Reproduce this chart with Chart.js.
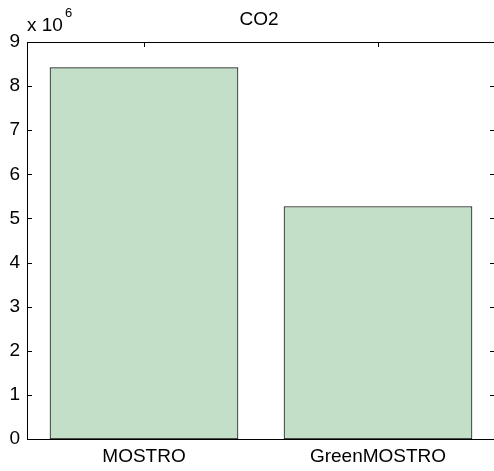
<!DOCTYPE html>
<html>
<head>
<meta charset="utf-8">
<script src="https://cdn.jsdelivr.net/npm/chart.js@4/dist/chart.umd.min.js"></script>
<style>
  html, body { margin: 0; padding: 0; background: #fff; overflow: hidden; }
  #wrap { width: 497px; height: 471px; }
</style>
</head>
<body>
<div id="wrap"><canvas id="c" width="497" height="471"></canvas></div>
<script>
// CO2 totals per configuration
const categories = ['MOSTRO', 'GreenMOSTRO'];
const co2Values = [8.42e6, 5.27e6];
const yTickValues = [0, 1e6, 2e6, 3e6, 4e6, 5e6, 6e6, 7e6, 8e6, 9e6];
const titleText = 'CO2';
const exponentBase = 'x 10';
const exponentPower = '6';

const FONT = '"Liberation Sans", Arial, Helvetica, sans-serif';

// Boxed axes with inward ticks on all four sides, plus title and exponent label
const frame = {
  id: 'frame',
  beforeDatasetsDraw(chart) {
    const { ctx, chartArea: a, scales } = chart;
    const len = 5;
    ctx.save();
    ctx.strokeStyle = '#000';
    ctx.lineWidth = 1;
    ctx.beginPath();
    yTickValues.forEach(v => {
      const y = Math.round(scales.y.getPixelForValue(v)) + 0.5;
      ctx.moveTo(a.left, y); ctx.lineTo(a.left + len, y);
      ctx.moveTo(a.right, y); ctx.lineTo(a.right - len, y);
    });
    categories.forEach((c, i) => {
      const x = Math.round(scales.x.getPixelForValue(i)) + 0.5;
      ctx.moveTo(x, a.top); ctx.lineTo(x, a.top + len);
      ctx.moveTo(x, a.bottom); ctx.lineTo(x, a.bottom - len);
    });
    ctx.stroke();
    ctx.restore();
  },
  afterDatasetsDraw(chart) {
    const { ctx, chartArea: a } = chart;
    ctx.save();
    ctx.strokeStyle = '#000';
    ctx.lineWidth = 1;
    const l = Math.round(a.left) + 0.5, t = Math.round(a.top) + 0.5;
    const r = Math.round(a.right) + 0.5, b = Math.round(a.bottom) + 0.5;
    ctx.strokeRect(l, t, r - l, b - t);

    ctx.fillStyle = '#000';
    ctx.textBaseline = 'alphabetic';
    ctx.textAlign = 'center';
    ctx.font = '19px ' + FONT;
    ctx.fillText(titleText, (a.left + a.right) / 2 - 2, 25);

    ctx.textAlign = 'left';
    ctx.fillText(exponentBase, a.left, 31);
    const w = ctx.measureText(exponentBase).width;
    ctx.font = '13px ' + FONT;
    ctx.fillText(exponentPower, a.left + w + 2, 17);
    ctx.restore();
  }
};

new Chart(document.getElementById('c'), {
  type: 'bar',
  data: {
    labels: categories,
    datasets: [{
      data: co2Values,
      backgroundColor: '#c3dfc7',
      borderColor: '#1a1a1a',
      borderWidth: 1,
      borderSkipped: false,
      barThickness: 188
    }]
  },
  options: {
    responsive: false,
    animation: false,
    devicePixelRatio: 1,
    layout: { padding: { top: 42, right: 2, left: 0, bottom: 0 } },
    plugins: { legend: { display: false }, tooltip: { enabled: false }, title: { display: false } },
    scales: {
      x: {
        offset: true,
        grid: { display: false, drawTicks: false },
        border: { display: false },
        ticks: { color: '#000', padding: 6, font: { family: FONT, size: 19 }, maxRotation: 0 },
        afterFit(scale) { scale.height = 32; }
      },
      y: {
        min: 0,
        max: 9e6,
        grid: { display: false, drawTicks: false },
        border: { display: false },
        afterBuildTicks(scale) { scale.ticks = yTickValues.map(v => ({ value: v })); },
        ticks: {
          color: '#000',
          padding: 7,
          font: { family: FONT, size: 19 },
          callback: v => String(v / 1e6)
        },
        afterFit(scale) { scale.width = 27; }
      }
    }
  },
  plugins: [frame]
});
</script>
</body>
</html>
